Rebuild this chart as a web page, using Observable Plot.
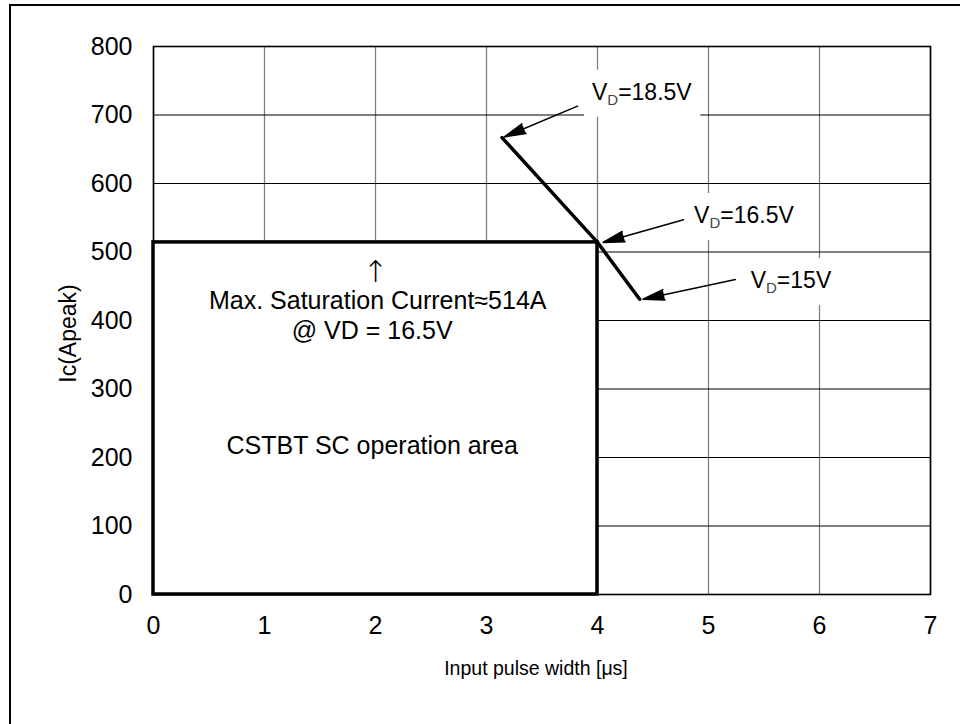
<!DOCTYPE html>
<html><head><meta charset="utf-8">
<script src="https://cdn.jsdelivr.net/npm/d3@7"></script>
<script src="https://cdn.jsdelivr.net/npm/@observablehq/plot@0.6"></script>
<style>
html,body{margin:0;padding:0;background:#fff;overflow:hidden;}
#wrap{position:relative;width:960px;height:724px;overflow:hidden;}
#chart{position:absolute;left:0;top:0;}
#border{position:absolute;left:9px;top:4px;width:1200px;height:1200px;border-left:2.5px solid #000;border-top:2.5px solid #000;pointer-events:none;}
</style></head><body><div id="wrap"><div id="chart"></div><div id="border"></div></div>
<script>
// ---- data ----
const xTicks = [0, 1, 2, 3, 4, 5, 6, 7];
const yTicks = [0, 100, 200, 300, 400, 500, 600, 700, 800];
const pulseLimit = 4;        // µs
const satCurrent = 514;      // A
// VD curve (pulse width vs peak current)
const curveVD = ["18.5", "16.5", "15"];
const curveWidth = [3.14, 4.0, 4.38];
const curveIc = [667, 514, 431];
// annotation labels and arrows
const labelX = [3.95, 4.87, 5.38];
const labelY = [733, 553, 458];
const tailX = [3.82, 4.775, 5.243];
const tailY = [713, 547, 460];
const headX = [3.16, 4.05, 4.41];
const headY = [668, 514, 431];
// texts inside the SOA box
const upArrow = "↑";
const upArrowX = 2;
const upArrowY = 470;
const annoText = ["Max. Saturation Current≈514A", "@ VD = 16.5V", "CSTBT SC operation area"];
const annoX = [2.02, 1.97, 1.97];
const annoY = [428, 384, 217];
const xTitle = "Input pulse width [μs]";
const yTitle = "Ic(Apeak)";

const FONT = '"Liberation Sans", Arial, sans-serif';

const plot = Plot.plot({
  width: 960, height: 724,
  marginLeft: 153, marginRight: 30, marginTop: 46, marginBottom: 130,
  style: {fontFamily: FONT, background: "white", color: "black"},
  x: {domain: [0, 7]},
  y: {domain: [0, 800]},
  marks: [
    Plot.gridX({ticks: xTicks, stroke: "#808080", strokeOpacity: 1, strokeWidth: 1.3}),
    Plot.gridY({ticks: yTicks, stroke: "#000", strokeOpacity: 1, strokeWidth: 1}),
    Plot.frame({stroke: "#000", strokeWidth: 1.6}),
    Plot.rect([satCurrent], {x1: 0, x2: pulseLimit, y1: 0, y2: d => d, fill: "white", stroke: "black", strokeWidth: 3.5}),
    Plot.line(curveIc, {x: curveWidth, y: curveIc, stroke: "black", strokeWidth: 3.5, strokeLinejoin: "miter"}),
    Plot.arrow(curveVD, {x1: tailX, y1: tailY, x2: headX, y2: headY, stroke: "black", fill: "black", strokeWidth: 1.5, headLength: 22, headAngle: 28}),
    Plot.text(curveVD, {x: labelX, y: labelY, text: curveVD.map(v => "VD=" + v + "V"), textAnchor: "start", fontSize: 23}),
    Plot.text([upArrow], {x: upArrowX, y: upArrowY, text: d => d, textAnchor: "middle", fontSize: 30, fontFamily: '"DejaVu Sans", sans-serif', fontWeight: 200}),
    Plot.text(annoText, {x: annoX, y: annoY, text: annoText, textAnchor: "middle", fontSize: 25}),
    Plot.axisX({ticks: xTicks, tickSize: 0, tickPadding: 22, fontSize: 25, label: null, tickFormat: d => String(d)}),
    Plot.axisY({ticks: yTicks, tickSize: 0, tickPadding: 21, fontSize: 25, label: null, tickFormat: d => String(d)}),
    Plot.text([xTitle], {frameAnchor: "bottom", dx: -6, dy: 74, lineAnchor: "middle", textAnchor: "middle", fontSize: 19.5, text: d => d}),
    Plot.text([yTitle], {frameAnchor: "left", dx: -85, dy: 13, rotate: -90, textAnchor: "middle", lineAnchor: "middle", fontSize: 23, text: d => d})
  ]
});

document.getElementById("chart").append(plot);
const svg = plot.tagName.toLowerCase() === "svg" ? plot : plot.querySelector("svg");
const NS = "http://www.w3.org/2000/svg";
const vdTexts = Array.from(svg.querySelectorAll("text")).filter(t => /^VD=\d/.test(t.textContent));
vdTexts.forEach(t => {
  const s = t.textContent;
  while (t.firstChild) t.removeChild(t.firstChild);
  const a = document.createElementNS(NS, "tspan"); a.textContent = s.slice(0, 1);
  const b = document.createElementNS(NS, "tspan"); b.textContent = s.slice(1, 2);
  b.setAttribute("font-size", "15"); b.setAttribute("dy", "5"); b.setAttribute("fill", "#444");
  const c = document.createElementNS(NS, "tspan"); c.textContent = s.slice(2); c.setAttribute("dy", "-5");
  t.append(a, b, c);
});
// white label backgrounds that interrupt the grid
const svgBox = svg.getBoundingClientRect();
const bg = document.createElementNS(NS, "g");
vdTexts.forEach(t => {
  const r = t.getBoundingClientRect();
  const rect = document.createElementNS(NS, "rect");
  rect.setAttribute("x", r.left - svgBox.left - 8);
  rect.setAttribute("y", r.top - svgBox.top - 9);
  rect.setAttribute("width", r.width + 16);
  rect.setAttribute("height", r.height + 18);
  rect.setAttribute("fill", "white");
  bg.append(rect);
});
const yGrid = svg.querySelector('g[aria-label="y-grid"]');
if (yGrid) yGrid.after(bg); else svg.insertBefore(bg, svg.children[2] || null);
</script>
</body></html>
